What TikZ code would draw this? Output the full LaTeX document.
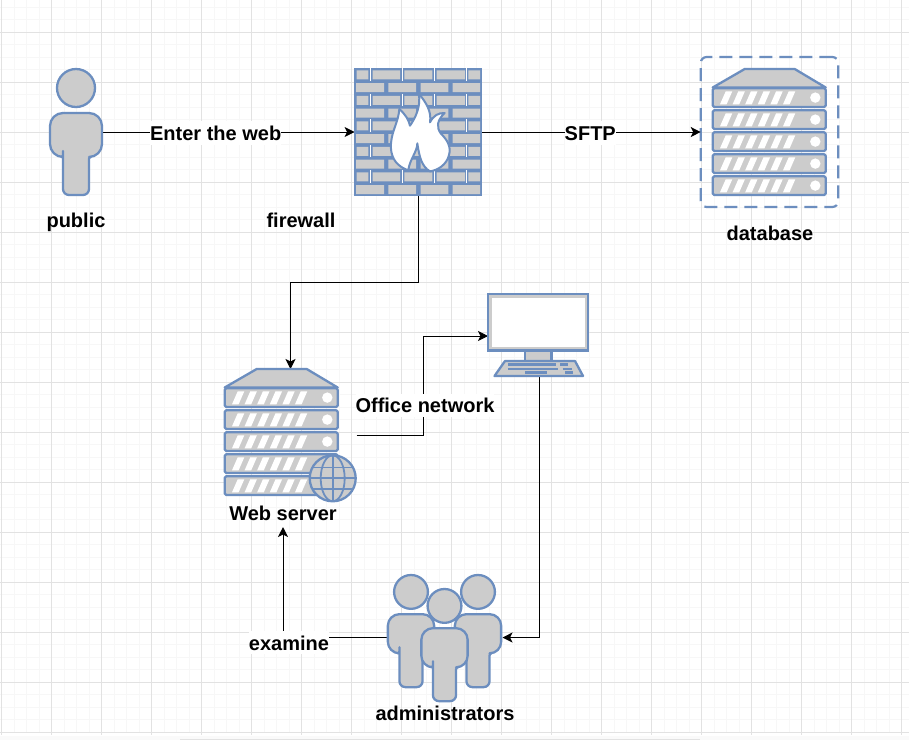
\documentclass[tikz,border=0pt]{standalone}
\usepackage{fontspec}
\setmainfont{Liberation Sans}
\usetikzlibrary{arrows.meta}
\definecolor{iconblue}{HTML}{6C8EBF}
\definecolor{icongrey}{HTML}{CCCCCC}
\definecolor{gridminor}{HTML}{F7F7F7}
\definecolor{gridmajor}{HTML}{E2E2E2}
\tikzset{
  iconbox/.style={draw=none,inner sep=0pt,outer sep=0pt},
  shapeline/.style={draw=iconblue,fill=icongrey,line width=2.3pt,line join=round},
  conn/.style={draw=black,line width=1pt,-{Stealth[length=10pt,width=10pt,inset=2.5pt]}},
  lbl/.style={font=\bfseries\fontsize{20}{22}\selectfont,inner xsep=0pt,inner ysep=0pt,text height=19pt,text depth=4.3pt},
  lblw/.style={lbl,fill=white},
}
% person: origin = top centre of the head
\newcommand{\personicon}[3]{%
  \begin{scope}[shift={(#1,#2)},x=#3pt,y=-#3pt]
    \path[shapeline] (0,19) circle[radius=19*#3pt];
    \path[shapeline] (-13,88) [rounded corners=2pt] -- (-13,88)
      [rounded corners=13pt*#3] -- (-26,88) -- (-26,44) -- (26,44) -- (26,88)
      [rounded corners=2pt] -- (13,88)
      [rounded corners=6pt] -- (13,126) -- (-13,126) -- cycle;
  \end{scope}}
% server rack: origin = left top
\newcommand{\rackicon}[2]{%
  \begin{scope}[shift={(#1,#2)},x=1pt,y=-1pt]
    \path[shapeline] (0,18.5) -- (32,0) -- (82,0) -- (113,18.5) -- cycle;
    \foreach \i in {0,1,2,3,4}{
      \begin{scope}[yshift=-22pt*\i]
        \path[shapeline,rounded corners=1.5pt] (0,19.3) rectangle (113,38);
        \foreach \j in {0,...,5}{
          \fill[white] (7.3+12.6*\j,35.3) -- (13+12.6*\j,22.3) -- (19.6+12.6*\j,22.3) -- (13.9+12.6*\j,35.3) -- cycle;
        }
        \fill[white] (102.6,28.6) circle[radius=5.2pt];
      \end{scope}
    }
  \end{scope}}
\begin{document}
\begin{tikzpicture}[x=1pt,y=-1pt]
\useasboundingbox (0,0) rectangle (909,740);
\fill[white] (0,0) rectangle (909,740);
% grid
\foreach \k in {0,...,72}{\draw[gridminor,line width=1pt] (1.5+12.5*\k,0) -- (1.5+12.5*\k,733);}
\foreach \k in {0,...,58}{\draw[gridminor,line width=1pt] (0,7+12.5*\k) -- (909,7+12.5*\k);}
\foreach \k in {0,...,18}{\draw[gridmajor,line width=1pt] (1.5+50*\k,0) -- (1.5+50*\k,735);}
\foreach \k in {0,...,14}{\draw[gridmajor,line width=1pt] (0,32+50*\k) -- (909,32+50*\k);}
\fill[gridminor!60] (0,736) rectangle (909,740);
\draw[gridmajor,line width=1pt] (180,739.5) -- (700,739.5);

% icon boxes (anchors for connectors)
\node[iconbox,minimum width=52pt,minimum height=126pt] (public) at (76,132) {};
\node[iconbox,minimum width=127.4pt,minimum height=127.4pt] (firewall) at (418.3,132) {};
\node[iconbox,draw=iconblue,line width=2.2pt,dash pattern=on 13pt off 7pt,rounded corners=6pt,
      minimum width=137.6pt,minimum height=150pt] (database) at (769.5,132) {};
\node[iconbox,minimum width=132pt,minimum height=133pt] (webserver) at (290.5,435.5) {};
\node[iconbox,minimum width=103pt,minimum height=80pt] (monitor) at (539.5,336) {};
\node[iconbox,minimum width=115pt,minimum height=126pt] (admins) at (445,637.5) {};
\coordinate (wsin) at (283,527);

% labels
\node[lbl] (lpublic) at (76,220) {public};
\node[lbl] (lfirewall) at (301,220) {firewall};
\node[lbl] (ldatabase) at (770,233) {database};
\node[lbl] (lweb) at (283,513.2) {Web server};
\node[lbl] (ladmin) at (445,713.2) {administrators};

% connectors
\draw[conn] (public.east) -- node[lblw,pos=.45,yshift=-1pt] {Enter the web} (firewall.west);
\draw[conn] (firewall.east) -- node[lblw,pos=.495,yshift=-1pt] {SFTP} (database.west);
\draw[conn] (firewall.south) |- (290.5,282) -- (webserver.north);
\draw[conn] (webserver.east) -| (423,336) -- (monitor.west);
\draw[conn] (monitor.south) |- (admins.east);
\draw[conn] (admins.west) -| (wsin);
\node[lblw] (loffice) at (425,405.4) {Office network};
\node[lblw] (lexamine) at (289,642.7) {examine};

% public
\personicon{76}{69}{1}

% firewall
\begin{scope}[shift={(340,55)},x=.33333pt,y=-.33333pt]
  \fill[iconblue] (43,40) rectangle (425,422);
  \foreach \r in {0,2,4,6,8}{
    \pgfmathsetmacro{\ya}{46+38.3*\r}
    \pgfmathsetmacro{\yb}{\ya+27}
    \pgfmathsetmacro{\yc}{\ya-6}
    \pgfmathsetmacro{\yd}{\ya+31}
    \fill[icongrey] (50,\ya) rectangle (85,\yb) (98,\ya) rectangle (180,\yb) (193,\ya) rectangle (277,\yb) (290,\ya) rectangle (375,\yb) (385,\ya) rectangle (420,\yb);
    \foreach \g in {92,187,283,380}{\draw[white,line width=.6pt] (\g,\yc) -- (\g,\yd);}
  }
  \foreach \r in {1,3,5,7,9}{
    \pgfmathsetmacro{\ya}{46+38.3*\r}
    \pgfmathsetmacro{\yb}{\ya+27}
    \fill[icongrey] (48,\ya) rectangle (132,\yb) (145,\ya) rectangle (228,\yb) (242,\ya) rectangle (325,\yb) (338,\ya) rectangle (420,\yb);
  }
\end{scope}
\begin{scope}[shift={(380,85)},x=.33333pt,y=-.33333pt]
  \path[draw=iconblue,fill=white,line width=2pt,line join=round]
    (75,252) .. controls (45,238) and (30,212) .. (33,175)
    .. controls (36,135) and (55,112) .. (58,72)
    .. controls (78,90) and (86,105) .. (90,122)
    .. controls (105,100) and (124,65) .. (116,25)
    .. controls (140,55) and (155,80) .. (150,112)
    .. controls (160,92) and (175,83) .. (194,84)
    .. controls (172,105) and (168,125) .. (182,145)
    .. controls (202,165) and (214,185) .. (207,210)
    .. controls (200,240) and (172,256) .. (150,259)
    .. controls (125,245) and (118,215) .. (112,175)
    .. controls (112,200) and (88,225) .. (85,256) -- cycle;
\end{scope}

% database and web server racks
\rackicon{712.7}{69}
\rackicon{224.7}{369}

% globe
\path[shapeline] (332.7,478.3) circle[radius=23pt];
\begin{scope}[draw=iconblue,line width=1.8pt]
  \clip (332.7,478.3) circle[radius=23pt];
  \draw (332.7,478.3) ellipse[x radius=12pt,y radius=23pt];
  \draw (332.7,455) -- (332.7,501.6);
  \draw (309,478.3) -- (356,478.3);
  \draw (309,467.5) -- (356,467.5);
  \draw (309,489) -- (356,489);
\end{scope}

% monitor
\path[shapeline] (525,351) rectangle (551.5,361);
\path[draw=iconblue,fill=icongrey,line width=2.3pt] (488.3,294.3) rectangle (588,350.5);
\fill[white] (492,298) rectangle (584.7,347);
\path[shapeline] (505,361) -- (575,361) -- (583,376) -- (494.5,376) -- cycle;
\begin{scope}[iconblue,line width=2.2pt]
  \draw (508.3,364.5) -- (555.7,364.5);
  \draw (560,364.5) -- (568,364.5);
  \draw (508,368.7) -- (558,368.7);
  \draw (562.7,368.7) -- (571.7,368.7);
  \draw (525,372.5) -- (547,372.5);
  \draw (565,372.5) -- (573,372.5);
\end{scope}

% administrators
\personicon{411}{575}{.89}
\personicon{478}{575}{.89}
\personicon{444.5}{589}{.89}
\end{tikzpicture}
\end{document}
